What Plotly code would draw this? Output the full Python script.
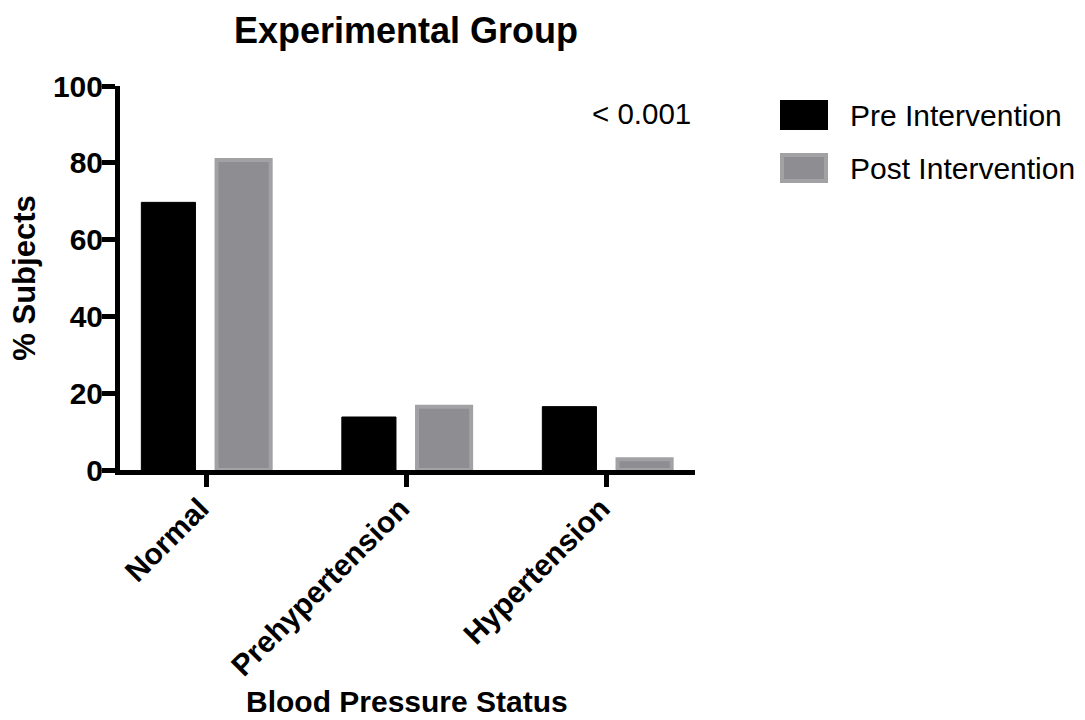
import plotly.graph_objects as go

# Blood pressure status distribution, % of subjects
categories = ["Normal", "Prehypertension", "Hypertension"]
pre_intervention = [69.7, 13.8, 16.5]
post_intervention = [80.7, 16.5, 2.8]
y_ticks = [0, 20, 40, 60, 80, 100]
p_value_text = "< 0.001"

W, H = 1085, 720
ML, MR, MT, MB = 120, 390, 86, 250
PW, PH = W - ML - MR, H - MT - MB

FONT = "Liberation Sans, Arial, Helvetica, sans-serif"
PRE_COLOR = "#000000"
POST_FILL = "#8d8d92"
POST_EDGE = "#a2a2a5"


def px_x(px):
    return (px - ML) / PW


def px_y(py):
    return 1 - (py - MT) / PH


fig = go.Figure()
fig.add_trace(go.Bar(
    x=categories, y=pre_intervention, name="Pre Intervention",
    marker=dict(color=PRE_COLOR, line=dict(color=PRE_COLOR, width=1)),
    showlegend=False,
))
fig.add_trace(go.Bar(
    x=categories, y=post_intervention, name="Post Intervention",
    marker=dict(color=POST_FILL, line=dict(color=POST_EDGE, width=4)),
    showlegend=False,
))

# Legend swatches and labels
legend_items = [("Pre Intervention", PRE_COLOR, PRE_COLOR, 115),
                ("Post Intervention", POST_FILL, POST_EDGE, 168)]
shapes = []
annotations = []
for label, fill, edge, cy in legend_items:
    shapes.append(dict(
        type="rect", xref="paper", yref="paper",
        x0=px_x(782), x1=px_x(826), y0=px_y(cy - 13), y1=px_y(cy + 13),
        fillcolor=fill, line=dict(color=edge, width=4),
    ))
    annotations.append(dict(
        text=label, xref="paper", yref="paper",
        x=px_x(848), y=px_y(cy), xanchor="left", yanchor="middle",
        showarrow=False, font=dict(family=FONT, size=30, color="#000000"),
    ))

annotations.append(dict(
    text=p_value_text, xref="paper", yref="paper",
    x=px_x(693), y=px_y(113), xanchor="right", yanchor="middle",
    showarrow=False, font=dict(family=FONT, size=29.5, color="#000000"),
))

# x-axis title, placed below the slanted category labels
annotations.append(dict(
    text="<b>Blood Pressure Status</b>", xref="paper", yref="paper",
    x=px_x(407), y=px_y(701), xanchor="center", yanchor="middle",
    showarrow=False, font=dict(family=FONT, size=30, color="#000000"),
))

fig.update_layout(
    width=W, height=H,
    margin=dict(l=ML, r=MR, t=MT, b=MB),
    paper_bgcolor="white", plot_bgcolor="white",
    barmode="group", bargap=0.25, bargroupgap=0.28,
    title=dict(
        text="<b>Experimental Group</b>", x=406 / W,
        xanchor="center", y=1 - 30 / H, yanchor="middle",
        font=dict(family=FONT, size=36, color="#000000"),
    ),
    xaxis=dict(
        range=[-0.429, 2.439], showline=True, linecolor="#000000", linewidth=5,
        ticks="outside", ticklen=12, tickwidth=5, tickcolor="#000000",
        tickangle=-45, showgrid=False, zeroline=False, automargin=False,
        ticklabelstandoff=-8, ticklabelshift=-6,
        tickfont=dict(family=FONT, size=30, color="#000000", weight="bold"),
    ),
    yaxis=dict(
        range=[0, 100], tickvals=y_ticks, showline=True, linecolor="#000000",
        linewidth=5, ticks="outside", ticklen=13, tickwidth=5,
        tickcolor="#000000", showgrid=False, zeroline=False, automargin=False,
        ticklabelstandoff=-7,
        tickfont=dict(family=FONT, size=30, color="#000000", weight="bold"),
        title=dict(text="<b>% Subjects</b>", standoff=10,
                   font=dict(family=FONT, size=31, color="#000000")),
    ),
    shapes=shapes,
    annotations=annotations,
)

fig.write_html("out.html")
